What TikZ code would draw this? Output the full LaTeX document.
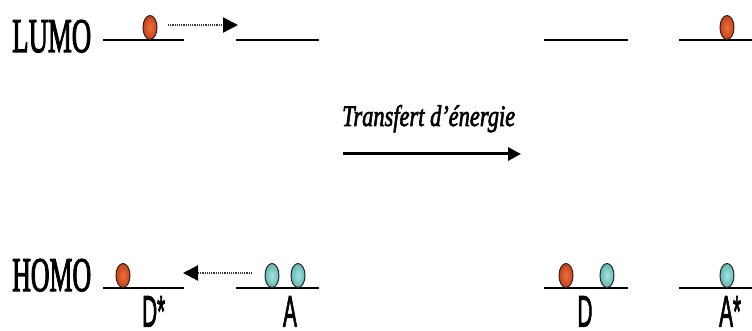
\documentclass[tikz,border=0pt]{standalone}
\usepackage{fontspec}
\setmainfont{Liberation Serif}
\newfontfamily\orbfont{Liberation Serif}[FakeBold=3]
\newfontfamily\trfont{Liberation Serif}[FakeBold=2.5, ItalicFeatures={FakeBold=2.5}]
\newfontfamily\labfont{Liberation Sans}[FakeBold=2.5]
\usetikzlibrary{arrows.meta,shapes.geometric}

\definecolor{elred}{HTML}{C8401A}
\definecolor{elredlt}{HTML}{E8703A}
\definecolor{elblue}{HTML}{5FB8B4}
\definecolor{elbluelt}{HTML}{A8E2DE}
\definecolor{eledge}{HTML}{2A2420}

\tikzset{
  level/.style={line width=2.4pt, black},
  electron/.style={ellipse, inner sep=0pt, minimum width=14pt, minimum height=24pt,
                   draw=eledge, line width=1pt},
  redel/.style={electron, inner color=elredlt, outer color=elred},
  blueel/.style={electron, inner color=elbluelt, outer color=elblue},
  hop/.style={line width=2.2pt, gray!45!black, dash pattern=on 1.2pt off 1pt,
              -{Triangle[length=15pt,width=15pt,black,fill=black]}},
  transfer/.style={line width=3pt, black, -{Triangle[length=13pt,width=13pt]}},
  orbname/.style={inner sep=0pt, anchor=base west},
  molname/.style={inner sep=0pt, anchor=north},
}

\newcommand{\orbtext}[1]{\resizebox{79pt}{32pt}{\orbfont\fontsize{44}{44}\selectfont #1}}
\newcommand{\moltext}[1]{\scalebox{0.47}[1]{\labfont\fontsize{44}{44}\selectfont #1}}

\begin{document}
\begin{tikzpicture}[x=1pt,y=-1pt]
  \useasboundingbox (0,0) rectangle (752,331);

  % orbital labels
  \node[orbname] (lumo) at (12,52) {\orbtext{LUMO}};
  \node[orbname] (homo) at (12,291) {\orbtext{HOMO}};

  % energy levels: D*, A (left) and D, A* (right)
  \coordinate (L1a) at (103,40);  \coordinate (L1b) at (184,40);
  \coordinate (L2a) at (236,40);  \coordinate (L2b) at (319,40);
  \coordinate (L3a) at (544,40);  \coordinate (L3b) at (628,40);
  \coordinate (L4a) at (679,40);  \coordinate (L4b) at (752,40);
  \coordinate (H1a) at (103,288); \coordinate (H1b) at (184,288);
  \coordinate (H2a) at (236,288); \coordinate (H2b) at (319,288);
  \coordinate (H3a) at (544,288); \coordinate (H3b) at (628,288);
  \coordinate (H4a) at (679,288); \coordinate (H4b) at (752,288);
  \foreach \p in {L1,L2,L3,L4,H1,H2,H3,H4}
    \draw[level] (\p a) -- (\p b);

  % electrons
  \node[redel]  (e1) at (150,27.5) {};
  \node[redel]  (e2) at (123,275.5) {};
  \node[blueel] (e3) at (272,275.5) {};
  \node[blueel] (e4) at (298,275.5) {};
  \node[redel]  (e5) at (727,27.5) {};
  \node[redel]  (e6) at (566,275.5) {};
  \node[blueel] (e7) at (607,275.5) {};
  \node[blueel] (e8) at (727,275.5) {};

  % electron exchange arrows
  \coordinate (u1) at (168,25);  \coordinate (u2) at (238,25);
  \coordinate (d1) at (252,273); \coordinate (d2) at (183,273);
  \draw[hop] (u1) -- (u2);
  \draw[hop] (d1) -- (d2);

  % energy transfer
  \node[inner sep=0pt, anchor=base west] (tt) at (342,126)
    {\resizebox{173pt}{21pt}{\trfont\fontsize{24}{24}\selectfont\itshape Transfert d’énergie}};
  \coordinate (t1) at (343,154); \coordinate (t2) at (521,154);
  \draw[transfer] (t1) -- (t2);

  % molecule labels
  \node[molname, anchor=north west] (Dstar) at (142,296) {\moltext{D*}};
  \node[molname] (A) at (290,296) {\moltext{A}};
  \node[molname] (D) at (585,296) {\moltext{D}};
  \node[molname, anchor=north west] (Astar) at (719,296) {\moltext{A*}};
\end{tikzpicture}
\end{document}
